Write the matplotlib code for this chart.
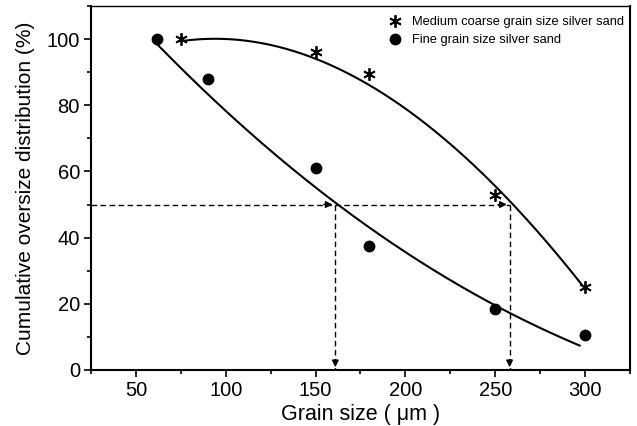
import numpy as np
import matplotlib
matplotlib.use("Agg")
import matplotlib.pyplot as plt
from matplotlib.ticker import MultipleLocator

plt.rcParams['font.family'] = ['Liberation Sans', 'DejaVu Sans']

# Data
coarse_x = [75, 150, 180, 250, 300]
coarse_y = [100, 96, 89.5, 53, 25]
fine_x = [62, 90, 150, 180, 250, 300]
fine_y = [100, 88, 61, 37.5, 18.5, 10.5]

# fitted trend-line readings (from the drawn curves)
coarse_fit_x = [75, 110, 150, 180, 258, 300]
coarse_fit_y = [100, 98.2, 94, 87.5, 50, 25]
fine_fit_x = [62, 90, 161, 231, 250, 297]
fine_fit_y = [98, 84, 50, 25.6, 19.5, 7.3]

d50_x = [161, 258]
d50_y = 50

fig = plt.figure(figsize=(6.37, 4.26), dpi=100)
ax = fig.add_axes([0.1429, 0.1315, 0.846, 0.8545])

cp = np.polyfit(coarse_fit_x, coarse_fit_y, 3)
xc = np.linspace(coarse_fit_x[0], coarse_fit_x[-1], 200)
ax.plot(xc, np.polyval(cp, xc), color='black', lw=1.5)
fp = np.polyfit(fine_fit_x, fine_fit_y, 3)
xf = np.linspace(fine_fit_x[0], fine_fit_x[-1], 200)
ax.plot(xf, np.polyval(fp, xf), color='black', lw=1.5)

ax.plot(coarse_x, coarse_y, linestyle='none', marker=(6, 2, 0), ms=9, mew=1.3,
        color='black', label='Medium coarse grain size silver sand')
ax.plot(fine_x, fine_y, linestyle='none', marker='o', ms=7.5,
        color='black', label='Fine grain size silver sand')

# dashed guide lines with arrows
ax.plot([25, d50_x[1]], [d50_y, d50_y], color='black', lw=1, ls=(0, (4, 2.5)))
for xv in d50_x:
    ax.plot([xv, xv], [d50_y, 0], color='black', lw=1, ls=(0, (4, 2.5)))
    ax.annotate('', xy=(xv, 0), xytext=(xv, 4),
                arrowprops=dict(arrowstyle='-|>', color='black', lw=1, mutation_scale=10))
    ax.annotate('', xy=(xv, d50_y), xytext=(xv - 8, d50_y),
                arrowprops=dict(arrowstyle='-|>', color='black', lw=1, mutation_scale=10))

ax.set_xlim(25, 325)
ax.set_ylim(0, 110)
ax.xaxis.set_major_locator(MultipleLocator(50))
ax.xaxis.set_minor_locator(MultipleLocator(25))
ax.yaxis.set_major_locator(MultipleLocator(20))
ax.yaxis.set_minor_locator(MultipleLocator(10))
ax.tick_params(which='both', direction='out', labelsize=14.5, width=1.2, pad=3)
ax.tick_params(which='major', length=5)
ax.tick_params(which='minor', length=3)
for s in ax.spines.values():
    s.set_linewidth(1.5)
ax.spines['top'].set_linewidth(1.0)

ax.set_xlabel('Grain size ( \u03bcm )', fontsize=15.5, labelpad=3)
ax.set_ylabel('Cumulative oversize distribution (%)', fontsize=15, labelpad=8)

fig.legend(loc='upper left', bbox_to_anchor=(0.6075, 0.962), frameon=False,
           fontsize=9.3, handletextpad=0.74, borderaxespad=0, borderpad=0,
           labelspacing=0.45, handlelength=1.2)

fig.savefig('out.png', dpi=100)
